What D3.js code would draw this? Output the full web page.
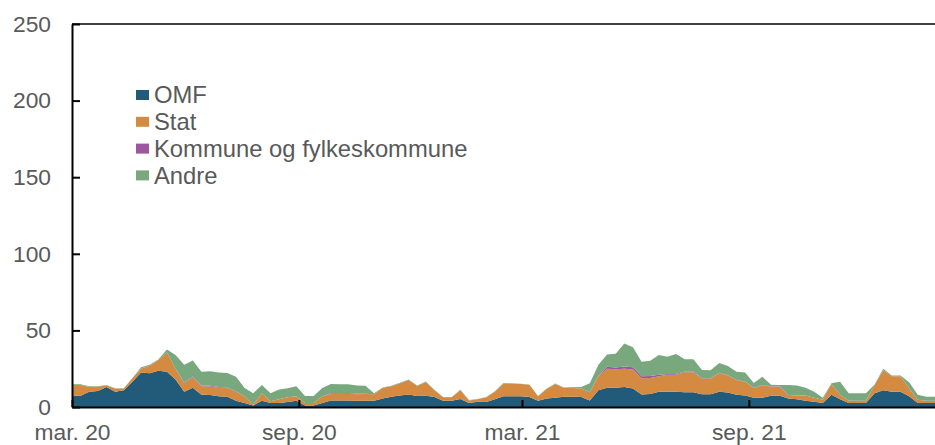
<!DOCTYPE html>
<html>
<head>
<meta charset="utf-8">
<script src="https://cdn.jsdelivr.net/npm/d3@7"></script>
<style>
  body { margin: 0; background: #fff; }
  svg { display: block; }
  text { font-family: "Liberation Sans", Arial, sans-serif; fill: #595959; }
</style>
</head>
<body>
<svg id="chart" width="935" height="445"></svg>
<script>
// Weekly holdings, mrd. kr, stacked by issuer type
const seriesNames = ["OMF", "Stat", "Kommune og fylkeskommune", "Andre"];
const seriesColors = ["#225a79", "#d48a40", "#9b57a0", "#79a87e"];

const omf = [
  7.4, 7.4, 10, 10.4, 13, 10, 10.9, 16.5, 22.6, 22, 23.7, 23, 18, 10, 12.6, 8, 7.8, 7, 6.7, 4,
  2.6, 1, 4, 2.6, 2.6, 3.3, 4, 1, 1, 2.6, 4.2, 4.2, 4.2, 4, 4, 4.1, 5.5, 6.7, 7.5, 8.2,
  7.2, 7.4, 6.5, 4, 4, 5.2, 2.6, 3.5, 3.3, 5, 7, 7, 7, 6.5, 4, 5.5, 6, 6.7, 6.7, 6.5,
  4.2, 11, 12.6, 12.6, 13, 12, 8.2, 8.5, 10, 10, 10, 9.7, 9.7, 8.4, 8.4, 10, 9.5, 8, 7.5, 6,
  6, 7.4, 7.4, 5.5, 5, 4, 3.5, 2.6, 8, 5, 2.6, 2.6, 2.6, 9, 11, 10, 10, 7, 2.6, 2.6, 2.6
];
const stat = [
  7, 7, 3, 2.9, 1, 2, 1.1, 2.2, 2.6, 5, 7, 12.5, 7, 5.5, 6.8, 5.5, 5.5, 5.5, 5.7, 6,
  4.4, 0.5, 5, 1.1, 2.4, 3, 3, 1.6, 1.6, 4.4, 4.3, 4.3, 4.5, 4.3, 4.5, 4.2, 7, 6.8, 8, 9.4,
  6.5, 9, 4.5, 2.4, 2.4, 5.8, 1.7, 1.5, 3, 5, 8.5, 8.3, 8, 8, 3, 6.3, 9, 5.7, 5.7, 5.5,
  5.4, 9, 12.4, 12, 12, 12.5, 10.5, 10.5, 10, 11, 11, 13, 13, 10, 10, 12, 11, 9.5, 9, 6.4,
  8, 5.9, 5.9, 2.3, 2.5, 3.5, 2.5, 2.2, 7, 3, 1.4, 1.4, 1.4, 5.4, 13, 10, 10, 5, 2.2, 1.5, 1.5
];
const kommune = [
  0, 0, 0, 0, 0, 0, 0, 0, 0, 0, 0, 0, 0, 0.5, 0.5, 0.5, 0.6, 0.5, 0.3, 0.3,
  0, 0, 0, 0, 0, 0, 0, 0, 0, 0, 0.5, 0.5, 0.4, 0.3, 0.2, 0, 0, 0, 0, 0,
  0, 0, 0, 0, 0, 0, 0, 0, 0, 0, 0, 0, 0, 0, 0, 0, 0, 0, 0, 0,
  0, 0.5, 1.2, 1.2, 1.5, 1.5, 1.3, 1.2, 1, 0.6, 0.6, 0.5, 0.5, 0.3, 0.3, 0.3, 0.3, 0.2, 0.2, 0.2,
  0.3, 0.3, 0.2, 0, 0, 0, 0, 0, 0, 0, 0, 0, 0, 0, 0, 0, 0, 0.2, 0, 0, 0
];
const andre = [
  0.5, 0.5, 0.5, 0.3, 0.3, 0.3, 0.3, 0.3, 0.8, 0.5, 0.3, 2, 9, 11.5, 10.5, 9, 9.5, 9.5, 9.5, 9.5,
  5.4, 7.5, 5.4, 5.3, 6.5, 6, 6.5, 4.6, 4.6, 5.4, 6, 5.8, 5.7, 5.5, 5.2, 0.6, 0.3, 0.3, 0.3, 0.3,
  0.3, 0.3, 0.2, 0.2, 0.2, 0.2, 0.2, 0.2, 0.2, 0.2, 0.2, 0.2, 0.2, 0.2, 0.2, 0.3, 0.3, 0.3, 0.5, 1,
  5.9, 7, 8, 9, 15, 13, 9.6, 10, 13, 11.2, 13, 8, 8, 5.5, 5.3, 6.5, 6, 5.3, 5.8, 3,
  5.5, 1, 0.9, 6.6, 6.5, 5, 4, 1.2, 0.5, 8.5, 5, 5, 5, 0.3, 1, 0.5, 0.5, 4, 3.2, 2.6, 2.6
];

const startDate = new Date(2020, 2, 1);
const endDate = new Date(2022, 0, 30);
const dates = omf.map((_, i) => d3.timeDay.offset(startDate, 7 * i));

const yTicks = [0, 50, 100, 150, 200, 250];
const xTickDates = [new Date(2020, 2, 1), new Date(2020, 8, 1), new Date(2021, 2, 1), new Date(2021, 8, 1)];
const xTickLabels = ["mar. 20", "sep. 20", "mar. 21", "sep. 21"];

const rows = dates.map((d, i) => ({
  date: d,
  "OMF": omf[i],
  "Stat": stat[i],
  "Kommune og fylkeskommune": kommune[i],
  "Andre": andre[i]
}));

const svg = d3.select("#chart");
const plotLeft = 72, plotRight = 935, plotTop = 24, plotBottom = 407;

const x = d3.scaleTime().domain([startDate, endDate]).range([plotLeft, plotRight]);
const y = d3.scaleLinear().domain([0, 250]).range([plotBottom, plotTop]);

const stacked = d3.stack().keys(seriesNames)(rows);
const area = d3.area()
  .x(d => x(d.data.date))
  .y0(d => y(d[0]))
  .y1(d => y(d[1]));

svg.append("g")
  .selectAll("path")
  .data(stacked)
  .join("path")
  .attr("d", area)
  .attr("fill", (d, i) => seriesColors[i]);

// Frame top line
svg.append("line")
  .attr("x1", plotLeft).attr("x2", plotRight)
  .attr("y1", plotTop).attr("y2", plotTop)
  .attr("stroke", "#000").attr("stroke-width", 1.5);

// Y axis with inward ticks
const yAxis = svg.append("g")
  .attr("transform", `translate(${plotLeft},0)`)
  .call(d3.axisLeft(y).tickValues(yTicks).tickSizeInner(-8).tickSizeOuter(0).tickPadding(21));
yAxis.select(".domain").attr("stroke", "#000").attr("stroke-width", 2);
yAxis.selectAll(".tick line").attr("stroke", "#000").attr("stroke-width", 2);
yAxis.selectAll("text").attr("font-size", 22.8).attr("fill", "#595959");

// X axis with inward ticks
const xAxis = svg.append("g")
  .attr("transform", `translate(0,${plotBottom})`)
  .call(d3.axisBottom(x).tickValues(xTickDates)
    .tickFormat((d, i) => xTickLabels[i])
    .tickSizeInner(-7).tickSizeOuter(0).tickPadding(17));
xAxis.select(".domain").attr("stroke", "#000").attr("stroke-width", 2);
xAxis.selectAll(".tick line").attr("stroke", "#000").attr("stroke-width", 2);
xAxis.selectAll("text").attr("font-size", 22.8).attr("fill", "#595959");

// Legend
const legend = svg.append("g").attr("transform", "translate(136,95)");
const item = legend.selectAll("g")
  .data(seriesNames)
  .join("g")
  .attr("transform", (d, i) => `translate(0,${i * 26.8})`);
item.append("rect")
  .attr("x", 0).attr("y", -5).attr("width", 13).attr("height", 10)
  .attr("fill", (d, i) => seriesColors[i]);
item.append("text")
  .attr("x", 18).attr("y", 0).attr("dy", "0.35em")
  .attr("font-size", 23.8)
  .text(d => d);
</script>
</body>
</html>
